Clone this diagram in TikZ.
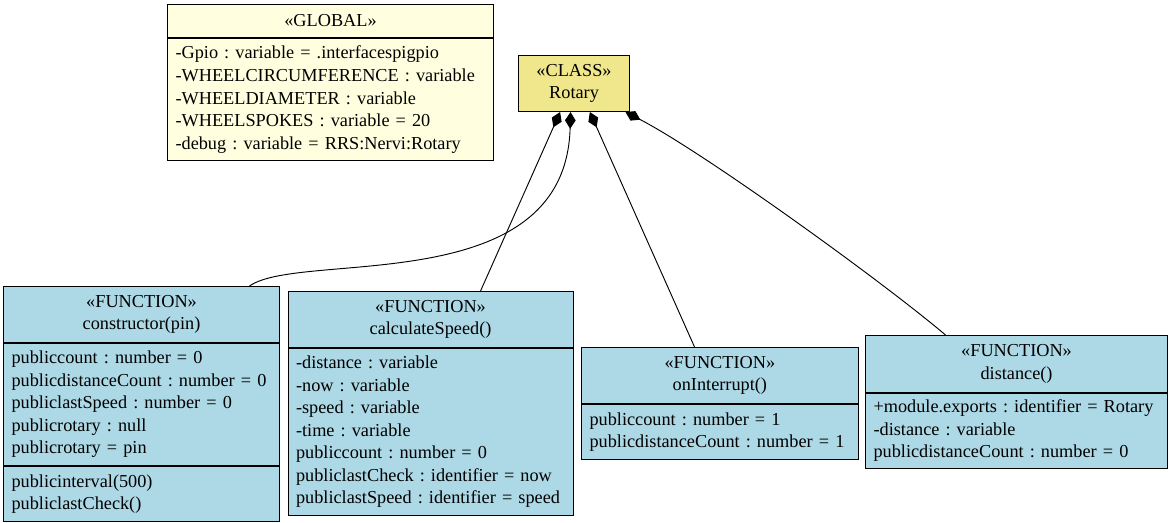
\documentclass[tikz,border=0pt]{standalone}
\usepackage{fontspec}
\setmainfont{Liberation Serif}
\usetikzlibrary{arrows.meta}
\definecolor{globfill}{HTML}{FFFFE0}
\definecolor{classfill}{HTML}{F0E68C}
\definecolor{funcfill}{HTML}{ADD8E6}
\newcommand\umlspacing{\frenchspacing\hyphenpenalty=10000\relax}
\tikzset{
  umlfont/.style={font={\fontsize{13.7pt}{16.9pt}\selectfont\umlspacing}},
  umlhead/.style={draw, line width=0.8pt, umlfont, align=center, inner sep=0pt, anchor=north west},
  umlbody/.style={draw, line width=0.8pt, umlfont, align=left, inner xsep=6pt, inner ysep=0pt, anchor=north west},
  compose/.style={arrows={{Diamond[length=12.5pt,width=8pt]}-}, line width=0.7pt}
}
\begin{document}
\begin{tikzpicture}[x=0.75pt,y=-0.75pt]
\useasboundingbox (0,0) rectangle (1173,523);
% global block
\node[umlhead, fill=globfill, text width=244.5pt, minimum height=24.75pt] (globHead) at (167,4) {«GLOBAL»};
\node[umlbody, fill=globfill, text width=232.5pt, minimum height=91.5pt] (globAttr) at (globHead.south west)
  {-Gpio : variable = .interfacespigpio\\-WHEELCIRCUMFERENCE : variable\\-WHEELDIAMETER : variable\\-WHEELSPOKES : variable = 20\\-debug : variable = RRS:Nervi:Rotary};
% class
\node[umlhead, fill=classfill, text width=83.25pt, minimum height=42pt] (rotary) at (518,55) {«CLASS»\\Rotary};
% functions
\node[umlhead, fill=funcfill, text width=207pt, minimum height=41.8pt] (ctorHead) at (3,286) {«FUNCTION»\\constructor(pin)};
\node[umlbody, fill=funcfill, text width=195pt, minimum height=91.7pt] (ctorAttr) at (ctorHead.south west)
  {publiccount : number = 0\\publicdistanceCount : number = 0\\publiclastSpeed : number = 0\\publicrotary : null\\publicrotary = pin};
\node[umlbody, fill=funcfill, text width=195pt, minimum height=41.25pt] (ctorOps) at (ctorAttr.south west)
  {publicinterval(500)\\publiclastCheck()};

\node[umlhead, fill=funcfill, text width=213.75pt, minimum height=41.8pt] (calcHead) at (287.5,291) {«FUNCTION»\\calculateSpeed()};
\node[umlbody, fill=funcfill, text width=201.75pt, minimum height=125.5pt] (calcAttr) at (calcHead.south west)
  {-distance : variable\\-now : variable\\-speed : variable\\-time : variable\\publiccount : number = 0\\publiclastCheck : identifier = now\\publiclastSpeed : identifier = speed};

\node[umlhead, fill=funcfill, text width=207.5pt, minimum height=41.8pt] (intHead) at (581,347) {«FUNCTION»\\onInterrupt()};
\node[umlbody, fill=funcfill, text width=195.5pt, minimum height=41.5pt] (intAttr) at (intHead.south west)
  {publiccount : number = 1\\publicdistanceCount : number = 1};

\node[umlhead, fill=funcfill, text width=226.5pt, minimum height=42.5pt] (distHead) at (865,335) {«FUNCTION»\\distance()};
\node[umlbody, fill=funcfill, text width=214.5pt, minimum height=56.5pt] (distAttr) at (distHead.south west)
  {+module.exports : identifier = Rotary\\-distance : variable\\publicdistanceCount : number = 0};
% compositions
\draw[compose] (rotary.-97) .. controls +(-5,189) and +(51,-36) .. ([xshift=81pt]ctorHead.north);
\draw[compose] (rotary.-116) -- ([xshift=37.5pt]calcHead.north);
\draw[compose] (rotary.-61) -- ([xshift=-19pt]intHead.north);
\draw[compose] (rotary.-29) .. controls +(76,39) and +(-65,-55) .. ([xshift=-53.25pt]distHead.north);
\end{tikzpicture}
\end{document}
